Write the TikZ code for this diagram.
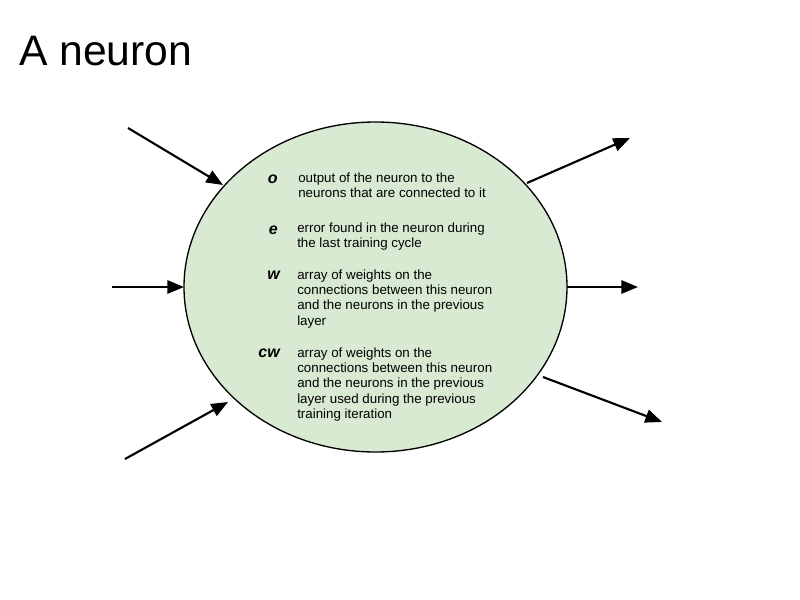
\documentclass[tikz,border=0pt]{standalone}
\usepackage{fontspec}
\setmainfont{Liberation Sans}
\usetikzlibrary{arrows.meta,shapes.geometric}
\definecolor{cellgreen}{HTML}{D9EAD3}
\newcommand{\paralines}[1]{\begin{tabular}[t]{@{}l@{}}#1\end{tabular}}
\tikzset{
  conn/.style={line width=1.6pt,-{Triangle[length=12.5pt,width=10pt]}},
  lbl/.style={anchor=base east,inner sep=0pt,font=\fontsize{12pt}{14pt}\selectfont\bfseries\itshape},
  desc/.style={anchor=base west,inner sep=0pt,font=\fontsize{10pt}{11.6pt}\selectfont},
  neuronbox/.style={ellipse,draw,line width=1pt,fill=cellgreen,minimum width=287.25pt,minimum height=247.5pt,inner sep=0pt,outer sep=0pt}
}
\begin{document}
\begin{tikzpicture}[x=0.75pt,y=-0.75pt]
\useasboundingbox (0,0) rectangle (800,600);
\node[anchor=base west,inner sep=0pt,font=\fontsize{32pt}{36pt}\selectfont] (title) at (19,65) {A neuron};
\node[neuronbox] (neuron) at (375.5,287) {};
% free ends
\coordinate (i1) at (128,128);
\coordinate (i2) at (112,287);
\coordinate (i3) at (125,459);
\coordinate (o1) at (630,138);
\coordinate (o2) at (638,287);
\coordinate (o3) at (662,422);
\coordinate (b1) at (223,185);
\coordinate (b3) at (228,402);
\coordinate (c1) at (527,183);
\coordinate (c3) at (543,377);
\draw[conn] (i1) -- (b1);
\draw[conn] (i2) -- (neuron.west);
\draw[conn] (i3) -- (b3);
\draw[conn] (c1) -- (o1);
\draw[conn] (neuron.east) -- (o2);
\draw[conn] (c3) -- (o3);
% labels
\node[lbl] (lo) at (278,183) {o};
\node[lbl] (le) at (278,234) {e};
\node[lbl] (lw) at (280,279) {w};
\node[lbl] (lcw) at (280,357) {cw};
\node[desc] (do) at (298,182) {\paralines{output of the neuron to the\\neurons that are connected to it}};
\node[desc] (de) at (297,232) {\paralines{error found in the neuron during\\the last training cycle}};
\node[desc] (dw) at (297,279) {\paralines{array of weights on the\\connections between this neuron\\and the neurons in the previous\\layer}};
\node[desc] (dcw) at (297,357) {\paralines{array of weights on the\\connections between this neuron\\and the neurons in the previous\\layer used during the previous\\training iteration}};
\end{tikzpicture}
\end{document}
